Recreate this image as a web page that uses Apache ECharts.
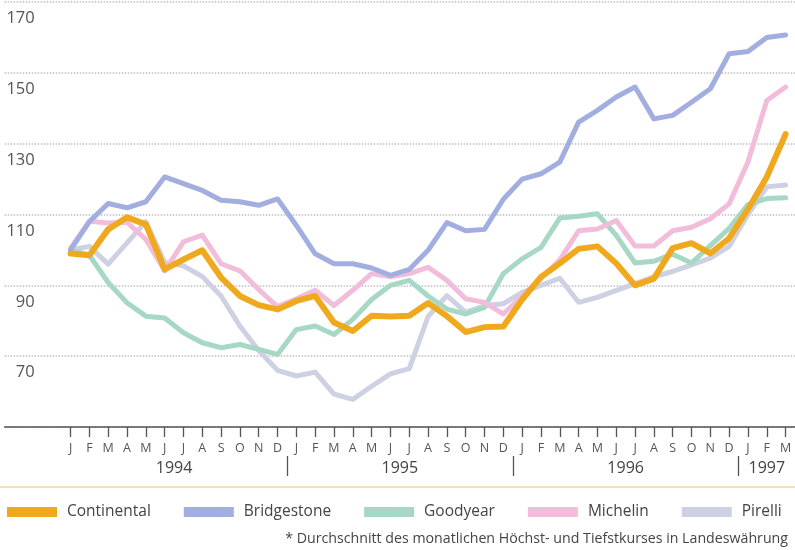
<!DOCTYPE html>
<html>
<head>
<meta charset="utf-8">
<script src="https://cdn.jsdelivr.net/npm/echarts@6/dist/echarts.min.js"></script>
<style>
  html, body { margin: 0; padding: 0; background: #fff; }
  #chart { width: 795px; height: 550px; }
</style>
</head>
<body>
<div id="chart"></div>
<script>
// month ticks Jan 1994 .. Mar 1997
const monthLabels = ['J','F','M','A','M','J','J','A','S','O','N','D',
                     'J','F','M','A','M','J','J','A','S','O','N','D',
                     'J','F','M','A','M','J','J','A','S','O','N','D',
                     'J','F','M'];
const years = ['1994', '1995', '1996', '1997'];
const yTicks = [50, 70, 90, 110, 130, 150, 170];

const continental = [99, 98.5, 105.8, 109.2, 107.2, 94.5, 97.3, 99.9, 92.2, 87, 84.4, 83.2,
                     85.6, 87, 79.5, 77.1, 81.4, 81.2, 81.4, 85, 81.3, 76.8, 78.2, 78.4,
                     86, 92.4, 96.2, 100.3, 101, 96.2, 90, 91.9, 100.5, 101.9, 99, 103.3,
                     111.5, 120.6, 132.7];
const bridgestone = [100, 108, 113.1, 111.9, 113.6, 120.6, 118.7, 116.8, 114, 113.6, 112.6, 114.4,
                     106.9, 98.9, 96.1, 96.1, 94.9, 92.8, 94.5, 99.9, 107.7, 105.4, 105.8, 114.3,
                     120, 121.5, 124.8, 136.1, 139.4, 143.2, 146, 137, 138, 141.7, 145.5, 155.4,
                     156, 160, 160.7];
const goodyear = [100, 98.5, 90.8, 85.1, 81.3, 80.8, 76.6, 73.8, 72.4, 73.3, 71.9, 70.5,
                  77.5, 78.5, 76.1, 80.4, 86, 90, 91.4, 87, 83.3, 81.9, 83.8, 93.3,
                  97.5, 100.7, 109, 109.5, 110.2, 104.1, 96.3, 96.8, 98.8, 96.3, 101.2, 106.1,
                  112.8, 114.5, 114.7];
const michelin = [100.5, 108.1, 107.6, 107.8, 103, 94.1, 102.3, 104.2, 96.1, 94.1, 88.8, 84,
                  86.2, 88.6, 84.3, 88.6, 93.3, 92.4, 93.3, 95.1, 91.4, 86.2, 85.2, 81.9,
                  87, 91.9, 97.2, 105.4, 105.9, 108.3, 101.1, 101.1, 105.4, 106.4, 108.8, 113,
                  124.8, 142.2, 146];
const pirelli = [100, 101, 96, 102, 108, 96.5, 95.5, 92.5, 87, 78.5, 71.6, 66,
                 64.4, 65.5, 59.3, 57.8, 61.5, 65, 66.5, 81.2, 87.1, 82.4, 84.3, 84.8,
                 88, 90, 92, 85.2, 86.6, 88.6, 90.5, 92.4, 93.9, 95.8, 97.7, 101,
                 110, 117.8, 118.3];

// three empty slots in front so the axis line runs past January 1994
const PAD = 3;
const pad = [null, null, null];
const categories = ['', '', ''].concat(monthLabels);
const yearCenters = [8.5, 20.5, 32.5, 40];
const yearBreaks = [14.5, 26.5, 38.5];
const monthTicks = monthLabels.map(function (m, i) { return i + PAD; });

const chart = echarts.init(document.getElementById('chart'));

function line(name, data, color, width) {
    return {
        name: name,
        type: 'line',
        data: pad.concat(data),
        symbol: 'none',
        animation: false,
        itemStyle: { color: color },
        lineStyle: { color: color, width: width, cap: 'round', join: 'round' }
    };
}

chart.setOption({
    animation: false,
    grid: [
        { left: 4.7, right: -5.6, top: 2, bottom: 123 },
        // thin strip under the axis line: its split lines are the month ticks
        { left: 4.7, right: -5.6, top: 427, height: 10 }
    ],
    title: {
        text: '* Durchschnitt des monatlichen Höchst- und Tiefstkurses in Landeswährung',
        right: 7,
        top: 532,
        padding: 0,
        textStyle: { fontSize: 14.2, fontWeight: 'normal', color: '#444', fontFamily: 'Open Sans' }
    },
    legend: {
        data: ['Continental', 'Bridgestone', 'Goodyear', 'Michelin', 'Pirelli'],
        left: 7,
        top: 504,
        padding: 0,
        icon: 'rect',
        itemWidth: 50,
        itemHeight: 10,
        itemGap: 33,
        textStyle: { fontSize: 15.5, color: '#444', fontFamily: 'Open Sans', padding: [0, 0, 0, 5] }
    },
    xAxis: [{
        gridIndex: 0,
        type: 'category',
        data: categories,
        boundaryGap: true,
        axisLine: { lineStyle: { color: '#555', width: 1.5 } },
        axisTick: { show: false },
        axisLabel: { show: false },
        splitLine: { show: false }
    }, {
        gridIndex: 0,
        type: 'value',
        min: -0.5,
        max: 41.5,
        position: 'bottom',
        offset: 29,
        axisLine: { show: false },
        axisTick: {
            show: true,
            customValues: yearBreaks,
            length: 20,
            lineStyle: { color: '#555', width: 1.3 }
        },
        axisLabel: {
            customValues: yearCenters,
            formatter: function (v) { return years[yearCenters.indexOf(v)] || ''; },
            margin: 4,
            fontSize: 16,
            color: '#444',
            fontFamily: 'Open Sans'
        },
        splitLine: { show: false }
    }, {
        gridIndex: 1,
        type: 'value',
        min: -0.5,
        max: 41.5,
        position: 'bottom',
        axisLine: { show: false },
        axisTick: { show: false, customValues: monthTicks },
        axisLabel: {
            customValues: monthTicks,
            formatter: function (v) { return monthLabels[Math.round(v) - PAD] || ''; },
            margin: 5,
            fontSize: 12.5,
            color: '#555',
            fontFamily: 'Open Sans'
        },
        splitLine: { show: true, lineStyle: { color: '#555', width: 1.3 } }
    }],
    yAxis: [{
        gridIndex: 0,
        type: 'value',
        min: yTicks[0],
        max: yTicks[yTicks.length - 1],
        interval: 20,
        axisLine: { show: false },
        axisTick: { show: false },
        axisLabel: {
            inside: true,
            align: 'right',
            verticalAlign: 'top',
            padding: [8, 0, 0, 0],
            margin: 30,
            showMinLabel: false,
            fontSize: 16.5,
            color: '#555',
            fontFamily: 'Open Sans'
        },
        splitLine: { lineStyle: { type: 'dotted', color: '#bdbdbd', width: 1.5 } }
    }, {
        gridIndex: 1,
        type: 'value',
        show: false
    }],
    graphic: [{
        type: 'line',
        shape: { x1: 0, y1: 487, x2: 795, y2: 487 },
        style: { stroke: '#efd9a6', lineWidth: 1.5 }
    }],
    series: [
        line('Pirelli', pirelli, '#cdd1e3', 5),
        line('Goodyear', goodyear, '#a6d8c5', 5),
        line('Michelin', michelin, '#f2bddb', 5),
        line('Bridgestone', bridgestone, '#a2aedf', 5),
        line('Continental', continental, '#f0a81c', 6)
    ]
});
</script>
</body>
</html>
